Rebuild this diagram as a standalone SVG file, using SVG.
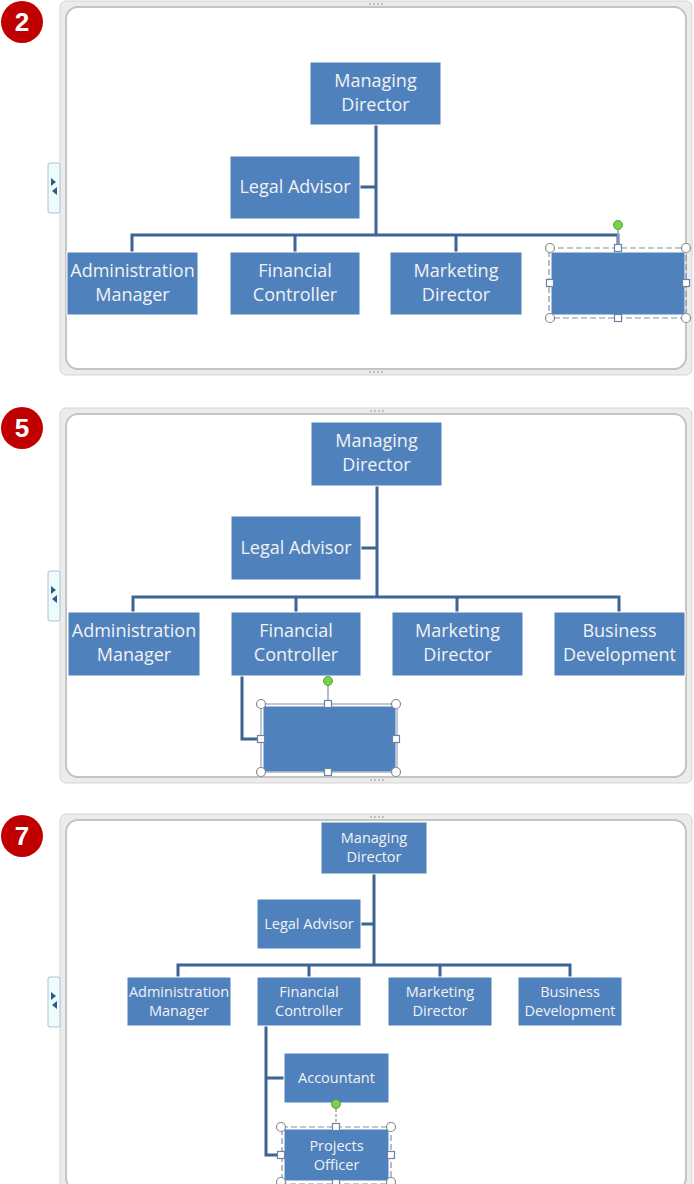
<svg xmlns="http://www.w3.org/2000/svg" width="694" height="1184" viewBox="0 0 694 1184">
<style>
.frame{fill:#ececec;stroke:#d4d4d4;stroke-width:1}
.inner{fill:#fff;stroke:#c4c4c4;stroke-width:2}
.badge{fill:#c00000}
.btxt{font-family:"Liberation Sans",Arial,sans-serif;font-weight:bold;font-size:26px;fill:#fff;text-anchor:middle}
.node{fill:#4f81bd;stroke:#ffffff;stroke-width:1}
.t{font-family:"Open Sans","Noto Sans",sans-serif;font-size:18px;fill:#f2f2f2;text-anchor:middle}
.ts{font-family:"Open Sans","Noto Sans",sans-serif;font-size:14.5px;fill:#f2f2f2;text-anchor:middle}
.conn{fill:none;stroke:#3d6494;stroke-width:3}
.sel{fill:none;stroke:#7f8fa6;stroke-width:1.2;stroke-dasharray:6 3}
.hc{fill:#fff;stroke:#8a8a8a;stroke-width:1.2}
.hs{fill:#fff;stroke:#6d83a0;stroke-width:1.2}
.rot{fill:#7ed04b;stroke:#5aa02c;stroke-width:1}
.rl{stroke:#9aa7b8;stroke-width:1.5}
.tab{fill:#eefbfd;stroke:#a9c6d0;stroke-width:1}
.tri{fill:#2e5b8a}
.dot{fill:#b0b0b0}
</style>

<!-- Panel frames -->
<g id="panel1">
<rect class="frame" x="60" y="1" width="632" height="374" rx="6"/>
<rect class="inner" x="66" y="7" width="620" height="362" rx="12"/>
<circle class="badge" cx="22" cy="22" r="21"/>
<text class="btxt" x="22" y="31">2</text>
<rect class="tab" x="48" y="163" width="12" height="50" rx="2"/>
<path class="tri" d="M51,178 l5,4 -5,4z M57,187 l-5,4 5,4z"/>
</g>
<g id="panel2">
<rect class="frame" x="60" y="408" width="632" height="375" rx="6"/>
<rect class="inner" x="66" y="414" width="620" height="363" rx="12"/>
<circle class="badge" cx="22" cy="428" r="21"/>
<text class="btxt" x="22" y="437">5</text>
<rect class="tab" x="48" y="571" width="12" height="50" rx="2"/>
<path class="tri" d="M51,586 l5,4 -5,4z M57,595 l-5,4 5,4z"/>
</g>
<g id="panel3">
<rect class="frame" x="60" y="814" width="632" height="380" rx="6"/>
<rect class="inner" x="66" y="820" width="620" height="370" rx="12"/>
<circle class="badge" cx="22" cy="836" r="21"/>
<text class="btxt" x="22" y="845">7</text>
<rect class="tab" x="48" y="977" width="12" height="50" rx="2"/>
<path class="tri" d="M51,992 l5,4 -5,4z M57,1001 l-5,4 5,4z"/>
</g>

<!-- Connectors -->
<g id="connectors">
<path class="conn" d="M376,125 V235 M360,187 H376 M132,252 V235 H618 V252 M295,235 V252 M456,235 V252"/>
<path class="conn" d="M377,486 V597 M361,548 H377 M133,612 V597 H619 V612 M296,597 V612 M457,597 V612 M242,676 V739 H262"/>
<path class="conn" d="M374,874 V965 M361,924 H374 M178,977 V965 H570 V977 M309,965 V977 M440,965 V977 M266,1026 V1155 H285 M266,1078 H285"/>
</g>

<!-- Panel 1 nodes -->
<g id="p1-md"><rect class="node" x="310" y="62" width="131" height="63"/><text class="t" x="375.5" y="87">Managing</text><text class="t" x="375.5" y="111">Director</text></g>
<g id="p1-legal"><rect class="node" x="230" y="156" width="130" height="63"/><text class="t" x="295" y="193">Legal Advisor</text></g>
<g id="p1-admin"><rect class="node" x="67" y="252" width="131" height="63"/><text class="t" x="132.5" y="277">Administration</text><text class="t" x="132.5" y="301">Manager</text></g>
<g id="p1-fin"><rect class="node" x="230" y="252" width="130" height="63"/><text class="t" x="295" y="277">Financial</text><text class="t" x="295" y="301">Controller</text></g>
<g id="p1-mkt"><rect class="node" x="390" y="252" width="132" height="63"/><text class="t" x="456" y="277">Marketing</text><text class="t" x="456" y="301">Director</text></g>
<g id="p1-new">
<rect class="node" x="551" y="252" width="134" height="63"/>
<rect class="sel" x="549" y="248" width="137" height="70"/>
<line class="rl" x1="618" y1="225" x2="618" y2="248"/>
<circle class="rot" cx="618" cy="225" r="4.5"/>
<circle class="hc" cx="550" cy="248" r="4.5"/><circle class="hc" cx="686" cy="248" r="4.5"/>
<circle class="hc" cx="550" cy="318" r="4.5"/><circle class="hc" cx="686" cy="318" r="4.5"/>
<rect class="hs" x="614.5" y="244.5" width="7" height="7"/><rect class="hs" x="614.5" y="314.5" width="7" height="7"/>
<rect class="hs" x="546.5" y="279.5" width="7" height="7"/><rect class="hs" x="682.5" y="279.5" width="7" height="7"/>
</g>

<!-- Panel 2 nodes -->
<g id="p2-md"><rect class="node" x="311" y="422" width="131" height="64"/><text class="t" x="376.5" y="447">Managing</text><text class="t" x="376.5" y="471">Director</text></g>
<g id="p2-legal"><rect class="node" x="231" y="516" width="130" height="64"/><text class="t" x="296" y="554">Legal Advisor</text></g>
<g id="p2-admin"><rect class="node" x="68" y="612" width="132" height="64"/><text class="t" x="134" y="637">Administration</text><text class="t" x="134" y="661">Manager</text></g>
<g id="p2-fin"><rect class="node" x="231" y="612" width="130" height="64"/><text class="t" x="296" y="637">Financial</text><text class="t" x="296" y="661">Controller</text></g>
<g id="p2-mkt"><rect class="node" x="392" y="612" width="131" height="64"/><text class="t" x="457.5" y="637">Marketing</text><text class="t" x="457.5" y="661">Director</text></g>
<g id="p2-bus"><rect class="node" x="554" y="612" width="131" height="64"/><text class="t" x="619.5" y="637">Business</text><text class="t" x="619.5" y="661">Development</text></g>
<g id="p2-new">
<rect class="node" x="263" y="706" width="133" height="66"/>
<rect fill="none" stroke="#8fa3bb" stroke-width="1.2" x="261" y="704" width="136" height="68"/>
<line class="rl" x1="328" y1="681" x2="328" y2="704"/>
<circle class="rot" cx="328" cy="681" r="4.5"/>
<circle class="hc" cx="261" cy="704" r="4.5"/><circle class="hc" cx="396" cy="704" r="4.5"/>
<circle class="hc" cx="261" cy="772" r="4.5"/><circle class="hc" cx="396" cy="772" r="4.5"/>
<rect class="hs" x="324.5" y="700.5" width="7" height="7"/><rect class="hs" x="324.5" y="768.5" width="7" height="7"/>
<rect class="hs" x="257.5" y="735.5" width="7" height="7"/><rect class="hs" x="392.5" y="735.5" width="7" height="7"/>
</g>

<!-- Panel 3 nodes -->
<g id="p3-md"><rect class="node" x="321" y="822" width="106" height="52"/><text class="ts" x="374" y="843">Managing</text><text class="ts" x="374" y="862">Director</text></g>
<g id="p3-legal"><rect class="node" x="257" y="899" width="104" height="50"/><text class="ts" x="309" y="929">Legal Advisor</text></g>
<g id="p3-admin"><rect class="node" x="127" y="977" width="104" height="49"/><text class="ts" x="179" y="997">Administration</text><text class="ts" x="179" y="1016">Manager</text></g>
<g id="p3-fin"><rect class="node" x="257" y="977" width="104" height="49"/><text class="ts" x="309" y="997">Financial</text><text class="ts" x="309" y="1016">Controller</text></g>
<g id="p3-mkt"><rect class="node" x="388" y="977" width="104" height="49"/><text class="ts" x="440" y="997">Marketing</text><text class="ts" x="440" y="1016">Director</text></g>
<g id="p3-bus"><rect class="node" x="518" y="977" width="104" height="49"/><text class="ts" x="570" y="997">Business</text><text class="ts" x="570" y="1016">Development</text></g>
<g id="p3-acc"><rect class="node" x="284" y="1053" width="105" height="50"/><text class="ts" x="336.5" y="1083">Accountant</text></g>
<g id="p3-proj">
<rect class="node" x="284" y="1129" width="105" height="52"/>
<text class="ts" x="336.5" y="1151">Projects</text><text class="ts" x="336.5" y="1170">Officer</text>
<rect class="sel" x="282" y="1127" width="109" height="57"/>
<line class="rl" x1="336" y1="1104" x2="336" y2="1127" stroke-dasharray="3 2"/>
<circle class="rot" cx="336" cy="1104" r="4.5"/>
<circle class="hc" cx="281" cy="1127" r="4.5"/><circle class="hc" cx="391" cy="1127" r="4.5"/>
<circle class="hc" cx="281" cy="1182" r="4.5"/><circle class="hc" cx="391" cy="1182" r="4.5"/>
<rect class="hs" x="332.5" y="1123.5" width="7" height="7"/><rect class="hs" x="332.5" y="1179.5" width="7" height="7"/>
<rect class="hs" x="277.5" y="1151.5" width="7" height="7"/><rect class="hs" x="387.5" y="1151.5" width="7" height="7"/>
</g>

<!-- grip dots -->
<g id="grips">
<circle class="dot" cx="370" cy="4" r="1"/><circle class="dot" cx="374" cy="4" r="1"/><circle class="dot" cx="378" cy="4" r="1"/><circle class="dot" cx="382" cy="4" r="1"/>
<circle class="dot" cx="370" cy="372" r="1"/><circle class="dot" cx="374" cy="372" r="1"/><circle class="dot" cx="378" cy="372" r="1"/><circle class="dot" cx="382" cy="372" r="1"/>
<circle class="dot" cx="371" cy="411" r="1"/><circle class="dot" cx="375" cy="411" r="1"/><circle class="dot" cx="379" cy="411" r="1"/><circle class="dot" cx="383" cy="411" r="1"/>
<circle class="dot" cx="371" cy="780" r="1"/><circle class="dot" cx="375" cy="780" r="1"/><circle class="dot" cx="379" cy="780" r="1"/><circle class="dot" cx="383" cy="780" r="1"/>
<circle class="dot" cx="371" cy="817" r="1"/><circle class="dot" cx="375" cy="817" r="1"/><circle class="dot" cx="379" cy="817" r="1"/><circle class="dot" cx="383" cy="817" r="1"/>
</g>
</svg>
